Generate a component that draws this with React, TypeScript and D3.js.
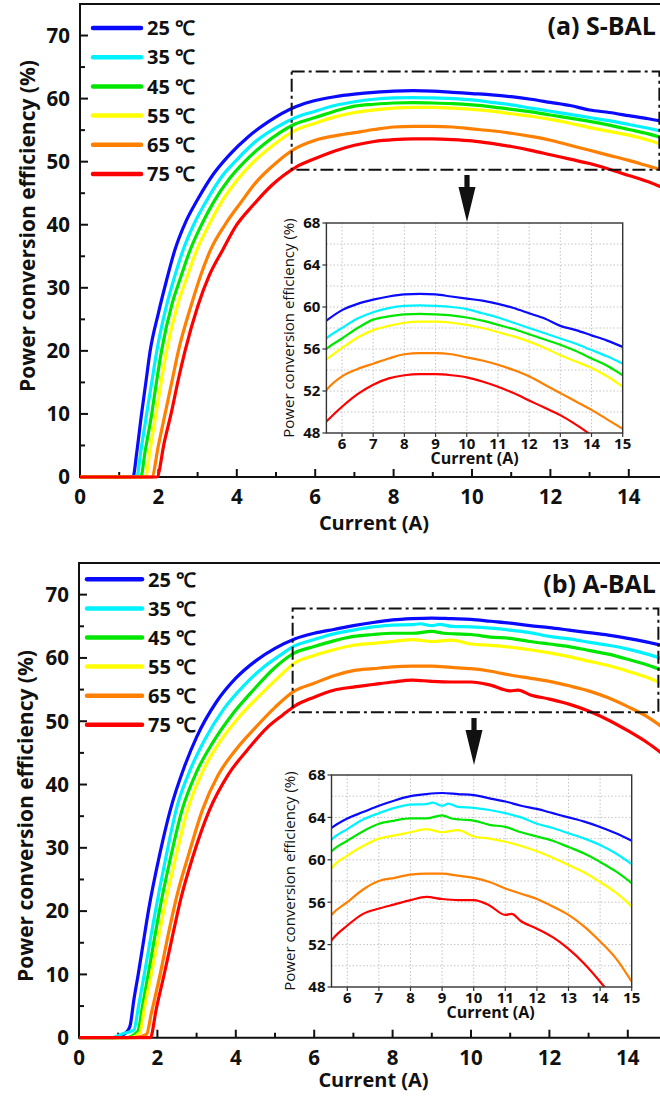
import React from "react";
import * as d3 from "d3";

type Pt = [number, number];

const TEMPS = ["25 ℃", "35 ℃", "45 ℃", "55 ℃", "65 ℃", "75 ℃"];
const COLORS = ["#0a0aff", "#00f2ff", "#00e600", "#ffff00", "#ff7f00", "#ff0000"];

// S-BAL: power conversion efficiency (%) vs current (A)
const sbal25: Pt[] = [[0,0],[1.35,0],[1.45,4],[1.57,10],[1.68,15],[1.79,20],[2.0,26],[2.2,31],[2.42,36],[2.7,40.5],[3.0,44],[3.4,48],[3.8,51],[4.3,54],[4.8,56.3],[5.5,58.7],[6,59.7],[6.5,60.3],[7,60.7],[7.5,61.0],[8,61.2],[8.5,61.25],[9,61.2],[9.5,61.0],[10,60.8],[10.5,60.6],[11,60.3],[11.5,59.9],[12,59.4],[12.5,58.9],[13,58.2],[13.5,57.8],[14,57.3],[14.5,56.8],[15,56.2]];
const sbal35: Pt[] = [[0,0],[1.45,0],[1.55,4],[1.7,10],[1.83,15],[1.96,20],[2.2,27],[2.4,31.5],[2.63,36],[2.9,40],[3.2,43.5],[3.6,47.5],[4.0,50.3],[4.5,53.3],[5.0,55.4],[5.5,57.0],[6,58.0],[6.5,58.9],[7,59.5],[7.5,59.9],[8,60.1],[8.5,60.15],[9,60.1],[9.5,60.0],[10,59.8],[10.5,59.4],[11,59.0],[11.5,58.5],[12,58.0],[12.5,57.5],[13,57.0],[13.5,56.5],[14,55.9],[14.5,55.3],[15,54.6]];
const sbal45: Pt[] = [[0,0],[1.55,0],[1.66,4],[1.83,10],[1.95,15],[2.08,20],[2.35,27.5],[2.56,31.5],[2.81,36],[3.1,40],[3.4,43.5],[3.8,47.2],[4.2,50],[4.7,52.8],[5.1,54.6],[5.5,56.0],[6,57.0],[6.5,58.0],[7,58.8],[7.5,59.1],[8,59.3],[8.5,59.35],[9,59.3],[9.5,59.2],[10,59.0],[10.5,58.7],[11,58.3],[11.5,57.9],[12,57.4],[12.5,56.9],[13,56.4],[13.5,55.8],[14,55.1],[14.5,54.4],[15,53.5]];
const sbal55: Pt[] = [[0,0],[1.67,0],[1.78,4],[1.94,10],[2.07,15],[2.21,20],[2.5,27.5],[2.72,31.5],[2.98,36],[3.25,39.5],[3.6,43.5],[4.0,47],[4.4,49.8],[4.9,52.5],[5.5,55.0],[6,56.1],[6.5,57.1],[7,57.8],[7.5,58.2],[8,58.5],[8.5,58.6],[9,58.6],[9.5,58.5],[10,58.3],[10.5,58.0],[11,57.6],[11.5,57.2],[12,56.7],[12.5,56.1],[13,55.4],[13.5,54.8],[14,54.2],[14.5,53.4],[15,52.4]];
const sbal65: Pt[] = [[0,0],[1.83,0],[2.0,5],[2.17,10],[2.34,15],[2.51,20],[2.85,27.5],[3.08,32],[3.33,36],[3.7,40],[4.1,43.5],[4.5,46.8],[5.0,49.8],[5.5,52.1],[6,53.4],[6.5,54.1],[7,54.6],[7.5,55.1],[8,55.5],[8.5,55.6],[9,55.6],[9.5,55.5],[10,55.2],[10.5,54.9],[11,54.5],[11.5,54.0],[12,53.4],[12.5,52.6],[13,51.8],[13.5,51.0],[14,50.2],[14.5,49.3],[15,48.4]];
const sbal75: Pt[] = [[0,0],[1.96,0],[2.15,5.5],[2.34,10.5],[2.51,15.5],[2.68,20],[3.0,27],[3.3,32],[3.64,36],[4.0,40],[4.4,43],[4.9,46.3],[5.5,49.1],[6,50.5],[6.5,51.7],[7,52.6],[7.5,53.2],[8,53.5],[8.5,53.6],[9,53.6],[9.5,53.5],[10,53.3],[10.5,52.9],[11,52.4],[11.5,51.8],[12,51.1],[12.5,50.4],[13,49.7],[13.5,48.8],[14,47.8],[14.5,46.8],[15,45.5]];

// A-BAL: power conversion efficiency (%) vs current (A)
const abal25: Pt[] = [[0,0],[0.9,0],[1.05,0.3],[1.2,0.8],[1.3,1.8],[1.4,6],[1.51,10],[1.64,15],[1.77,20],[2.06,29],[2.33,36],[2.7,43],[3.0,47.5],[3.5,53],[4.0,56.8],[4.5,59.5],[5.0,61.5],[5.5,63.0],[6,63.9],[6.5,64.5],[7,65.1],[7.5,65.6],[8,66.0],[8.5,66.2],[9,66.3],[9.5,66.2],[10,66.1],[10.5,65.8],[11,65.5],[11.5,65.1],[12,64.8],[12.5,64.4],[13,64.0],[13.5,63.6],[14,63.1],[14.5,62.5],[15,61.8]];
const abal35: Pt[] = [[0,0],[0.85,0],[1.1,0.6],[1.4,1.2],[1.52,5],[1.68,10.5],[1.82,15.5],[1.95,20],[2.2,28],[2.5,36.5],[2.85,42.5],[3.2,47],[3.7,52],[4.2,55.6],[4.7,58.5],[5.1,60.3],[5.5,61.9],[6,62.9],[6.5,63.8],[7,64.4],[7.5,64.9],[8,65.2],[8.5,65.25],[8.7,65.4],[9,65.1],[9.2,65.3],[9.5,65.0],[10,64.9],[10.5,64.7],[11,64.4],[11.5,64.0],[12,63.4],[12.5,63.0],[13,62.5],[13.5,62.0],[14,61.4],[14.5,60.6],[15,59.6]];
const abal45: Pt[] = [[0,0],[1.2,0],[1.5,1],[1.62,5],[1.78,10.5],[1.92,15.5],[2.05,20],[2.32,28],[2.63,36],[3.0,42],[3.4,46.5],[3.9,51],[4.4,54.6],[5.0,58.5],[5.5,60.8],[6,61.8],[6.5,62.7],[7,63.4],[7.5,63.7],[8,63.9],[8.5,63.9],[9,64.2],[9.3,63.9],[9.6,63.8],[10,63.7],[10.5,63.3],[11,63.1],[11.5,62.6],[12,62.2],[12.5,61.8],[13,61.2],[13.5,60.6],[14,59.8],[14.5,58.9],[15,57.8]];
const abal55: Pt[] = [[0,0],[1.3,0],[1.55,0.8],[1.68,5],[1.86,10.5],[2.02,15.5],[2.16,20],[2.45,28],[2.77,36],[3.15,42],[3.6,46.8],[4.1,50.8],[4.6,54],[5.1,57],[5.5,59.2],[6,60.4],[6.5,61.3],[7,62.0],[7.5,62.3],[8,62.6],[8.5,62.9],[9,62.6],[9.5,62.8],[10,62.2],[10.5,62.0],[11,61.7],[11.5,61.3],[12,60.8],[12.5,60.2],[13,59.5],[13.5,58.8],[14,57.9],[14.5,56.9],[15,55.6]];
const abal65: Pt[] = [[0,0],[1.4,0],[1.72,0.5],[1.85,4],[2.07,10],[2.3,17],[2.5,22.5],[2.8,29],[3.15,36],[3.55,41.5],[4.0,45.5],[4.5,49],[5.0,52.2],[5.5,54.8],[6,56.0],[6.5,57.2],[7,58.0],[7.5,58.3],[8,58.6],[8.5,58.7],[9,58.7],[9.5,58.5],[10,58.3],[10.5,57.9],[11,57.3],[11.5,56.8],[12,56.3],[12.5,55.6],[13,54.8],[13.5,53.7],[14,52.3],[14.5,50.7],[15,48.5]];
const abal75: Pt[] = [[0,0],[1.82,0],[1.97,4.5],[2.19,10.5],[2.4,16.5],[2.6,22],[2.9,28.5],[3.33,36],[3.8,41.5],[4.3,45.5],[4.8,49],[5.2,51],[5.5,52.4],[6,53.8],[6.5,54.9],[7,55.4],[7.5,55.8],[8,56.2],[8.5,56.5],[9,56.3],[9.5,56.2],[10,56.2],[10.5,55.7],[11,54.8],[11.2,54.9],[11.5,54.2],[12,53.5],[12.5,52.7],[13,51.6],[13.5,50.2],[14,48.5],[14.5,46.6],[15,44.3]];

const SBAL = [sbal25, sbal35, sbal45, sbal55, sbal65, sbal75];
const ABAL = [abal25, abal35, abal45, abal55, abal65, abal75];

const MAIN_X_MAJOR = [0, 2, 4, 6, 8, 10, 12, 14];
const MAIN_X_MINOR = [1, 3, 5, 7, 9, 11, 13];
const MAIN_Y_MAJOR = [0, 10, 20, 30, 40, 50, 60, 70];
const MAIN_Y_MINOR = [5, 15, 25, 35, 45, 55, 65];
const INSET_X_TICKS = [6, 7, 8, 9, 10, 11, 12, 13, 14, 15];
const INSET_Y_TICKS = [48, 52, 56, 60, 64, 68];
const INSET_Y_GRID = [50, 52, 54, 56, 58, 60, 62, 64, 66];
const INSET_X_GRID = [6, 7, 8, 9, 10, 11, 12, 13, 14];

const FONT = "'Open Sans', 'Segoe UI', sans-serif";

interface Layout {
  id: string;
  title: string;
  titleY: number;
  left: number;
  right: number;
  top: number;
  bottom: number;
  legendX1: number;
  legendX2: number;
  legendY0: number;
  legendDy: number;
  yTitleX: number;
  yTitleY: number;
  xTitleY: number;
  box: { x0: number; x1: number; y0: number; y1: number };
  arrowX: number;
  arrowY1: number;
  arrowY2: number;
  inset: { left: number; right: number; top: number; bottom: number; titleDx: number; yTitleX: number };
}

const LAYOUT_A: Layout = {
  id: "a",
  title: "(a) S-BAL",
  titleY: 35,
  left: 80,
  right: 668,
  top: 4,
  bottom: 477,
  legendX1: 93,
  legendX2: 141,
  legendY0: 28,
  legendDy: 29.2,
  yTitleX: 27,
  yTitleY: 226,
  xTitleY: 530,
  box: { x0: 5.4, x1: 14.78, y0: 48.7, y1: 64.3 },
  arrowX: 467,
  arrowY1: 175,
  arrowY2: 222,
  inset: { left: 326.4, right: 622.7, top: 223, bottom: 433, titleDx: 0, yTitleX: 289 },
};

const LAYOUT_B: Layout = {
  id: "b",
  title: "(b) A-BAL",
  titleY: 593,
  left: 79,
  right: 667,
  top: 563,
  bottom: 1037.7,
  legendX1: 87,
  legendX2: 142,
  legendY0: 579.3,
  legendDy: 29.1,
  yTitleX: 25,
  yTitleY: 816,
  xTitleY: 1087,
  box: { x0: 5.45, x1: 14.78, y0: 51.4, y1: 67.8 },
  arrowX: 474,
  arrowY1: 718,
  arrowY2: 765,
  inset: { left: 331.5, right: 631.7, top: 775, bottom: 987, titleDx: 9, yTitleX: 290 },
};

function Panel({ L, series }: { L: Layout; series: Pt[][] }) {
  const x = d3.scaleLinear().domain([0, 15]).range([L.left, L.right]);
  const y = d3.scaleLinear().domain([0, 75]).range([L.bottom, L.top]);
  const line = d3
    .line<Pt>()
    .x((d) => x(d[0]))
    .y((d) => y(d[1]))
    .curve(d3.curveMonotoneX);

  const I = L.inset;
  const ix = d3.scaleLinear().domain([5.5, 15]).range([I.left, I.right]);
  const iy = d3.scaleLinear().domain([48, 68]).range([I.bottom, I.top]);
  const iline = d3
    .line<Pt>()
    .x((d) => ix(d[0]))
    .y((d) => iy(d[1]))
    .curve(d3.curveMonotoneX);

  const bx0 = x(L.box.x0);
  const bx1 = x(L.box.x1);
  const by0 = y(L.box.y1);
  const by1 = y(L.box.y0);

  const ax = L.arrowX;
  const headTop = L.arrowY1 + 12;
  const arrowPath = `M${ax - 2.6},${L.arrowY1} L${ax + 2.6},${L.arrowY1} L${ax + 2.6},${headTop} L${ax + 8.5},${headTop} L${ax},${L.arrowY2} L${ax - 8.5},${headTop} L${ax - 2.6},${headTop} Z`;

  const insetMidX = (I.left + I.right) / 2;
  const insetMidY = (I.top + I.bottom) / 2;

  return (
    <g>
      <defs>
        <clipPath id={`main-clip-${L.id}`}>
          <rect x={L.left} y={L.top} width={L.right - L.left} height={L.bottom - L.top + 2} />
        </clipPath>
        <clipPath id={`inset-clip-${L.id}`}>
          <rect x={I.left} y={I.top} width={I.right - I.left} height={I.bottom - I.top} />
        </clipPath>
      </defs>

      {/* main frame: top and right borders */}
      <line x1={L.left} x2={L.right} y1={L.top} y2={L.top} stroke="#111" strokeWidth={2} />
      <line x1={L.right} x2={L.right} y1={L.top} y2={L.bottom} stroke="#111" strokeWidth={2} />

      {MAIN_Y_MAJOR.map((v) => (
        <g key={`ym${v}`}>
          <line x1={L.left} x2={L.left + 8} y1={y(v)} y2={y(v)} stroke="#111" strokeWidth={2} />
          <text x={L.left - 10} y={y(v) + 7.3} textAnchor="end" fontSize={20.5} fontWeight={700} fontFamily={FONT} fill="#111">
            {v}
          </text>
        </g>
      ))}
      {MAIN_Y_MINOR.map((v) => (
        <line key={`yn${v}`} x1={L.left} x2={L.left + 5} y1={y(v)} y2={y(v)} stroke="#111" strokeWidth={2} />
      ))}
      {MAIN_X_MAJOR.map((v) => (
        <g key={`xm${v}`}>
          <line x1={x(v)} x2={x(v)} y1={L.bottom} y2={L.bottom - 8} stroke="#111" strokeWidth={2} />
          <text x={x(v)} y={L.bottom + 27} textAnchor="middle" fontSize={20.5} fontWeight={700} fontFamily={FONT} fill="#111">
            {v}
          </text>
        </g>
      ))}
      {MAIN_X_MINOR.map((v) => (
        <line key={`xn${v}`} x1={x(v)} x2={x(v)} y1={L.bottom} y2={L.bottom - 5} stroke="#111" strokeWidth={2} />
      ))}
      <line x1={L.left} x2={L.right} y1={L.bottom} y2={L.bottom} stroke="#111" strokeWidth={2} />
      <line x1={L.left} x2={L.left} y1={L.top - 1} y2={L.bottom + 1} stroke="#111" strokeWidth={2} />

      <text
        transform={`translate(${L.yTitleX + 7.5},${L.yTitleY}) rotate(-90)`}
        textAnchor="middle"
        fontSize={21}
        fontWeight={700}
        fontFamily={FONT}
        fill="#111"
      >
        Power conversion efficiency (%)
      </text>
      <text x={(L.left + 660) / 2 + 4} y={L.xTitleY} textAnchor="middle" fontSize={20} fontWeight={700} fontFamily={FONT} fill="#111">
        Current (A)
      </text>

      <text x={656} y={L.titleY} textAnchor="end" fontSize={25} fontWeight={700} fontFamily={FONT} fill="#111">
        {L.title}
      </text>

      {/* curves */}
      <g clipPath={`url(#main-clip-${L.id})`}>
        {series.map((s, i) => (
          <path key={`c${i}`} d={line(s) ?? ""} fill="none" stroke={COLORS[i]} strokeWidth={3.2} strokeLinejoin="round" />
        ))}
      </g>

      {/* legend */}
      {TEMPS.map((t, i) => {
        const ly = L.legendY0 + i * L.legendDy;
        return (
          <g key={`lg${i}`}>
            <line x1={L.legendX1} x2={L.legendX2} y1={ly} y2={ly} stroke={COLORS[i]} strokeWidth={4.5} strokeLinecap="round" />
            <text x={L.legendX2 + 6} y={ly + 7.2} fontSize={20} fontWeight={700} fontFamily={FONT} fill="#111">
              {t}
            </text>
          </g>
        );
      })}

      {/* zoomed region marker */}
      <rect
        x={bx0}
        y={by0}
        width={bx1 - bx0}
        height={by1 - by0}
        fill="none"
        stroke="#111"
        strokeWidth={2}
        strokeDasharray="13 4 3 4"
      />
      <path d={arrowPath} fill="#111" />

      {/* inset */}
      <rect x={I.left} y={I.top} width={I.right - I.left} height={I.bottom - I.top} fill="#fff" />
      {INSET_Y_GRID.map((v) => (
        <line key={`igy${v}`} x1={I.left} x2={I.right} y1={iy(v)} y2={iy(v)} stroke="#c4c4c4" strokeWidth={1} strokeDasharray="1.5 2" />
      ))}
      {INSET_X_GRID.map((v) => (
        <line key={`igx${v}`} x1={ix(v)} x2={ix(v)} y1={I.top} y2={I.bottom} stroke="#c4c4c4" strokeWidth={1} strokeDasharray="1.5 2" />
      ))}
      <g clipPath={`url(#inset-clip-${L.id})`}>
        {series.map((s, i) => (
          <path key={`ic${i}`} d={iline(s.filter((d) => d[0] >= 5) as Pt[]) ?? ""} fill="none" stroke={COLORS[i]} strokeWidth={2.2} strokeLinejoin="round" />
        ))}
      </g>
      <rect x={I.left} y={I.top} width={I.right - I.left} height={I.bottom - I.top} fill="none" stroke="#333" strokeWidth={1.4} />
      {INSET_Y_TICKS.map((v) => (
        <g key={`iyt${v}`}>
          <line x1={I.left} x2={I.left - 4} y1={iy(v)} y2={iy(v)} stroke="#333" strokeWidth={1.2} />
          <text x={I.left - 6} y={iy(v) + 5.4} textAnchor="end" fontSize={15} fontWeight={700} fontFamily={FONT} fill="#111">
            {v}
          </text>
        </g>
      ))}
      {INSET_X_TICKS.map((v) => (
        <g key={`ixt${v}`}>
          <line x1={ix(v)} x2={ix(v)} y1={I.bottom} y2={I.bottom + 4} stroke="#333" strokeWidth={1.2} />
          <text x={ix(v)} y={I.bottom + 15.5} textAnchor="middle" fontSize={15} fontWeight={700} fontFamily={FONT} fill="#111">
            {v}
          </text>
        </g>
      ))}
      <text x={insetMidX + I.titleDx} y={I.bottom + 30.5} textAnchor="middle" fontSize={16} fontWeight={700} fontFamily={FONT} fill="#111">
        Current (A)
      </text>
      <text
        transform={`translate(${I.yTitleX + 5},${insetMidY}) rotate(-90)`}
        textAnchor="middle"
        fontSize={15}
        fontFamily={FONT}
        fill="#111"
      >
        Power conversion efficiency (%)
      </text>
    </g>
  );
}

export default function App() {
  return (
    <svg
      width={660}
      height={1097}
      viewBox="0 0 660 1097"
      style={{ position: "absolute", left: 0, top: 0, display: "block", background: "#fff" }}
    >
      <rect x={0} y={0} width={660} height={1097} fill="#fff" />
      <Panel L={LAYOUT_A} series={SBAL} />
      <Panel L={LAYOUT_B} series={ABAL} />
    </svg>
  );
}
